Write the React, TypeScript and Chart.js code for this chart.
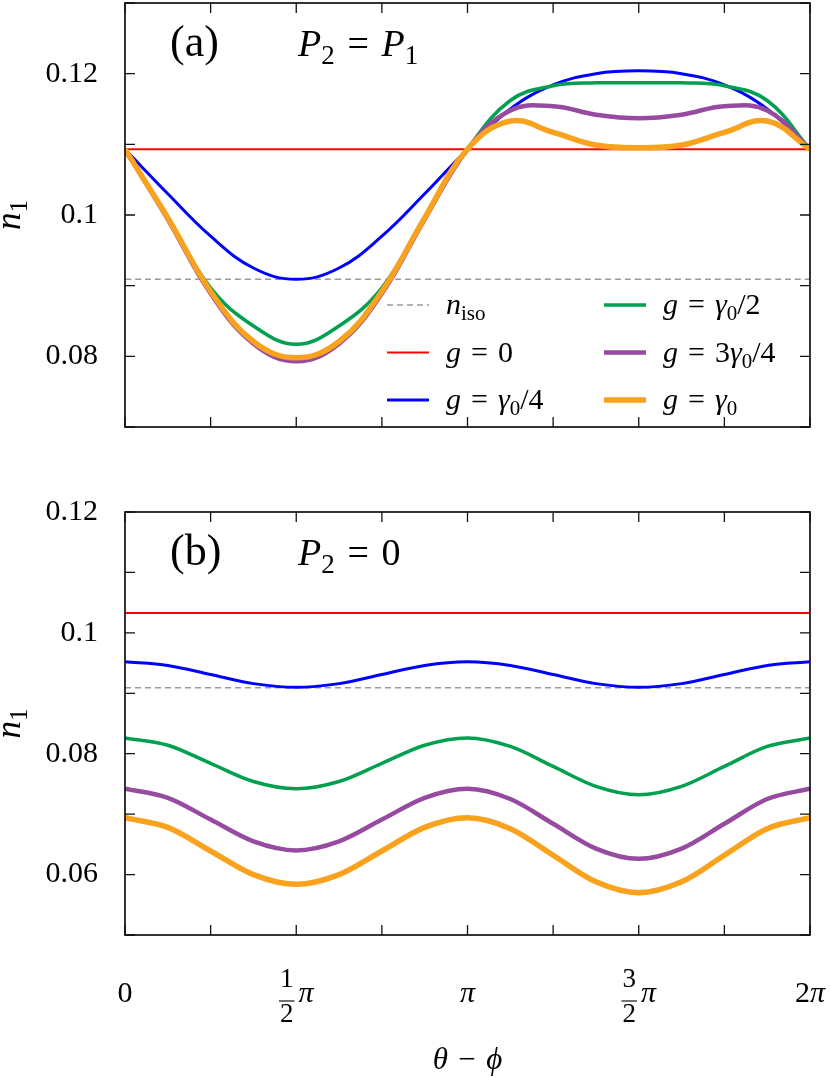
import { useEffect, useRef } from "react";
import { Chart, registerables } from "chart.js";

Chart.register(...registerables);

const SERIF = "'Liberation Serif', 'Times New Roman', serif";
const EQ = "\u2004=\u2004";

// θ − φ, in units of π
const THETA = [0, 0.125, 0.25, 0.375, 0.5, 0.625, 0.75, 0.875, 1, 1.125, 1.25, 1.375, 1.5, 1.625, 1.75, 1.875, 2];
const X_TICKS = [0, 0.25, 0.5, 0.75, 1, 1.25, 1.5, 1.75, 2];
const X_LABEL_AT = [0, 0.5, 1, 1.5, 2];
const X_LABELS = ["0", "1/2π", "π", "3/2π", "2π"];

// (a) P2 = P1
const A_ISO = [0.0909, 0.0909, 0.0909, 0.0909, 0.0909, 0.0909, 0.0909, 0.0909, 0.0909, 0.0909, 0.0909, 0.0909, 0.0909, 0.0909, 0.0909, 0.0909, 0.0909];
const A_G0 = [0.1093, 0.1093, 0.1093, 0.1093, 0.1093, 0.1093, 0.1093, 0.1093, 0.1093, 0.1093, 0.1093, 0.1093, 0.1093, 0.1093, 0.1093, 0.1093, 0.1093];
const A_G1 = [0.1093, 0.103, 0.097, 0.0925, 0.0909, 0.0925, 0.097, 0.103, 0.1093, 0.115, 0.1184, 0.12, 0.1204, 0.12, 0.1184, 0.115, 0.1093];
const A_G2 = [0.1093, 0.0997, 0.0897, 0.0843, 0.0817, 0.0843, 0.0897, 0.0997, 0.1093, 0.1162, 0.1183, 0.1187, 0.1187, 0.1187, 0.1183, 0.1162, 0.1093];
const A_G3 = [0.1093, 0.0994, 0.0889, 0.0818, 0.0793, 0.0818, 0.0889, 0.0994, 0.1093, 0.1148, 0.1154, 0.1142, 0.1137, 0.1142, 0.1154, 0.1148, 0.1093];
const A_G4 = [0.1093, 0.0996, 0.0892, 0.0821, 0.0798, 0.0821, 0.0892, 0.0996, 0.1093, 0.1133, 0.1117, 0.1099, 0.1095, 0.1099, 0.1117, 0.1133, 0.1093];
const A_Y_TICKS = [0.07, 0.08, 0.09, 0.1, 0.11, 0.12, 0.13];
const A_Y_LABELS = [0.08, 0.1, 0.12];

// (b) P2 = 0
const B_ISO = [0.0909, 0.0909, 0.0909, 0.0909, 0.0909, 0.0909, 0.0909, 0.0909, 0.0909, 0.0909, 0.0909, 0.0909, 0.0909, 0.0909, 0.0909, 0.0909, 0.0909];
const B_G0 = [0.1033, 0.1033, 0.1033, 0.1033, 0.1033, 0.1033, 0.1033, 0.1033, 0.1033, 0.1033, 0.1033, 0.1033, 0.1033, 0.1033, 0.1033, 0.1033, 0.1033];
const B_G1 = [0.0952, 0.0946, 0.0931, 0.0916, 0.091, 0.0916, 0.0931, 0.0946, 0.0952, 0.0946, 0.0931, 0.0916, 0.091, 0.0916, 0.0931, 0.0946, 0.0952];
const B_G2 = [0.0826, 0.0814, 0.0784, 0.0754, 0.0742, 0.0754, 0.0784, 0.0814, 0.0826, 0.0812, 0.0779, 0.0746, 0.0732, 0.0746, 0.0779, 0.0812, 0.0826];
const B_G3 = [0.0742, 0.0727, 0.0691, 0.0655, 0.064, 0.0655, 0.0691, 0.0727, 0.0742, 0.0725, 0.0684, 0.0643, 0.0626, 0.0643, 0.0684, 0.0725, 0.0742];
const B_G4 = [0.0694, 0.0678, 0.0639, 0.06, 0.0584, 0.06, 0.0639, 0.0678, 0.0694, 0.0676, 0.0632, 0.0588, 0.057, 0.0588, 0.0632, 0.0676, 0.0694];
const B_Y_TICKS = [0.05, 0.06, 0.07, 0.08, 0.09, 0.1, 0.11, 0.12];
const B_Y_LABELS = [0.06, 0.08, 0.1, 0.12];

type Seg = { t: string; it?: boolean; sub?: boolean };

const SERIES: { name: Seg[]; color: string; width: number; dash?: number[] }[] = [
  { name: [{ t: "n", it: true }, { t: "iso", sub: true }], color: "#9a9a9a", width: 1.5, dash: [6, 4] },
  { name: [{ t: "g", it: true }, { t: EQ }, { t: "0" }], color: "#ff0000", width: 2 },
  { name: [{ t: "g", it: true }, { t: EQ }, { t: "γ", it: true }, { t: "0", sub: true }, { t: "/4" }], color: "#0000ff", width: 3 },
  { name: [{ t: "g", it: true }, { t: EQ }, { t: "γ", it: true }, { t: "0", sub: true }, { t: "/2" }], color: "#00a050", width: 3.5 },
  { name: [{ t: "g", it: true }, { t: EQ + "3" }, { t: "γ", it: true }, { t: "0", sub: true }, { t: "/4" }], color: "#964ba0", width: 4.5 },
  { name: [{ t: "g", it: true }, { t: EQ }, { t: "γ", it: true }, { t: "0", sub: true }], color: "#f9a21e", width: 5.5 },
];

const Y_TITLE: Seg[] = [{ t: "n", it: true }, { t: "1", sub: true }];
const X_TITLE: Seg[] = [{ t: "θ", it: true }, { t: "\u2004−\u2004" }, { t: "ϕ", it: true }];

type PanelSpec = {
  series: number[][];
  yMin: number;
  yMax: number;
  yTicks: number[];
  yLabels: number[];
  tag: Seg[];
  cond: Seg[];
  legend: boolean;
  xLabels: boolean;
  smooth: "default" | "monotone";
  padding: { top: number; right: number; bottom: number; left: number };
  top: number;
  height: number;
};

const PANEL_A: PanelSpec = {
  series: [A_ISO, A_G0, A_G1, A_G2, A_G3, A_G4],
  yMin: 0.07,
  yMax: 0.13,
  yTicks: A_Y_TICKS,
  yLabels: A_Y_LABELS,
  tag: [{ t: "(a)" }],
  cond: [{ t: "P", it: true }, { t: "2", sub: true }, { t: EQ }, { t: "P", it: true }, { t: "1", sub: true }],
  legend: true,
  xLabels: false,
  smooth: "default",
  padding: { top: 3, right: 20, bottom: 13, left: 0 },
  top: 0,
  height: 440,
};

const PANEL_B: PanelSpec = {
  series: [B_ISO, B_G0, B_G1, B_G2, B_G3, B_G4],
  yMin: 0.05,
  yMax: 0.12,
  yTicks: B_Y_TICKS,
  yLabels: B_Y_LABELS,
  tag: [{ t: "(b)" }],
  cond: [{ t: "P", it: true }, { t: "2", sub: true }, { t: EQ + "0" }],
  legend: false,
  xLabels: true,
  smooth: "monotone",
  padding: { top: 20, right: 20, bottom: 142, left: 0 },
  top: 492,
  height: 585,
};

function drawMath(ctx: CanvasRenderingContext2D, segs: Seg[], x: number, y: number, size: number, align: "left" | "center" = "left") {
  const fontOf = (s: Seg) => `${s.it ? "italic " : ""}${s.sub ? Math.round(size * 0.7) : size}px ${SERIF}`;
  let w = 0;
  for (const s of segs) {
    ctx.font = fontOf(s);
    w += ctx.measureText(s.t).width;
  }
  let cx = align === "center" ? x - w / 2 : x;
  ctx.textAlign = "left";
  ctx.textBaseline = "alphabetic";
  for (const s of segs) {
    ctx.font = fontOf(s);
    ctx.fillText(s.t, cx, s.sub ? y + size * 0.2 : y);
    cx += ctx.measureText(s.t).width;
  }
}

function drawXLabel(ctx: CanvasRenderingContext2D, label: string, px: number, yb: number) {
  const frac = label.match(/^(\d)\/(\d)π$/);
  if (frac) {
    ctx.font = `27px ${SERIF}`;
    const barW = Math.max(ctx.measureText(frac[1]).width, ctx.measureText(frac[2]).width) + 2;
    ctx.font = `italic 30px ${SERIF}`;
    const piW = ctx.measureText("π").width;
    const sx = px - (barW + 4 + piW) / 2;
    drawMath(ctx, [{ t: frac[1] }], sx + barW / 2, yb - 15, 27, "center");
    drawMath(ctx, [{ t: frac[2] }], sx + barW / 2, yb + 20, 27, "center");
    ctx.lineWidth = 1.2;
    ctx.beginPath();
    ctx.moveTo(sx, yb - 1);
    ctx.lineTo(sx + barW, yb - 1);
    ctx.stroke();
    drawMath(ctx, [{ t: "π", it: true }], sx + barW + 4, yb, 30);
    return;
  }
  const segs: Seg[] = label.split("").map((c) => (c === "π" ? { t: c, it: true } : { t: c }));
  drawMath(ctx, segs, px, yb, 30, "center");
}

function panelPlugin(p: PanelSpec) {
  return {
    id: "panelDecor",
    afterDraw(chart: any) {
      const { ctx, chartArea: a, scales } = chart;
      const xs = scales.x;
      const ys = scales.y;
      ctx.save();
      ctx.strokeStyle = "#111";
      ctx.fillStyle = "#000";

      // inward tick marks on all four sides
      ctx.lineWidth = 1.3;
      ctx.beginPath();
      for (const v of X_TICKS) {
        const px = xs.getPixelForValue(v);
        ctx.moveTo(px, a.bottom);
        ctx.lineTo(px, a.bottom - 10);
        ctx.moveTo(px, a.top);
        ctx.lineTo(px, a.top + 10);
      }
      for (const t of ys.ticks) {
        const py = ys.getPixelForValue(t.value);
        ctx.moveTo(a.left, py);
        ctx.lineTo(a.left + 10, py);
        ctx.moveTo(a.right, py);
        ctx.lineTo(a.right - 10, py);
      }
      ctx.stroke();
      ctx.lineWidth = 1.7;
      ctx.strokeRect(a.left, a.top, a.right - a.left, a.bottom - a.top);

      drawMath(ctx, p.tag, a.left + 45, a.top + 53, 44);
      drawMath(ctx, p.cond, a.left + 173, a.top + 53, 38);

      ctx.save();
      ctx.translate(a.left - 105, (a.top + a.bottom) / 2);
      ctx.rotate(-Math.PI / 2);
      drawMath(ctx, Y_TITLE, 0, 0, 35, "center");
      ctx.restore();

      if (p.legend) {
        chart.data.datasets.forEach((ds: any, i: number) => {
          const col = Math.floor(i / 3);
          const row = i % 3;
          const lx = a.right - (col === 0 ? 423 : 206);
          const ly = a.bottom - 122 + row * 47.5;
          ctx.save();
          ctx.strokeStyle = ds.borderColor;
          ctx.lineWidth = ds.borderWidth;
          ctx.setLineDash(ds.borderDash || []);
          ctx.beginPath();
          ctx.moveTo(lx, ly);
          ctx.lineTo(lx + 42, ly);
          ctx.stroke();
          ctx.restore();
          drawMath(ctx, SERIES[i].name, lx + 59, ly + 9, 30);
        });
      }

      if (p.xLabels) {
        X_LABEL_AT.forEach((v, i) => drawXLabel(ctx, X_LABELS[i], xs.getPixelForValue(v), a.bottom + 67));
        drawMath(ctx, X_TITLE, (a.left + a.right) / 2, a.bottom + 134, 31, "center");
      }
      ctx.restore();
    },
  };
}

function makeConfig(p: PanelSpec): any {
  return {
    type: "line",
    data: {
      datasets: p.series.map((vals, i) => ({
        label: SERIES[i].name.map((s) => s.t).join(""),
        data: THETA.map((x, j) => ({ x, y: vals[j] })),
        borderColor: SERIES[i].color,
        borderWidth: SERIES[i].width,
        borderDash: SERIES[i].dash ?? [],
        pointRadius: 0,
        tension: 0.4,
        cubicInterpolationMode: p.smooth,
        fill: false,
        order: p.series.length - i,
      })),
    },
    options: {
      animation: false,
      responsive: false,
      events: [],
      layout: { padding: p.padding },
      plugins: { legend: { display: false }, tooltip: { enabled: false } },
      scales: {
        x: { type: "linear", min: 0, max: 2, display: false },
        y: {
          type: "linear",
          min: p.yMin,
          max: p.yMax,
          grid: { display: false, drawTicks: false },
          border: { display: false },
          afterBuildTicks: (s: any) => {
            s.ticks = p.yTicks.map((value) => ({ value }));
          },
          afterFit: (s: any) => {
            s.width = 125;
            s.paddingTop = 0;
            s.paddingBottom = 0;
          },
          ticks: {
            padding: 27,
            color: "#000",
            font: { family: SERIF, size: 30 },
            callback: (v: number) => (p.yLabels.includes(v) ? String(v) : ""),
          },
        },
      },
    },
    plugins: [panelPlugin(p)],
  };
}

function Panel({ p }: { p: PanelSpec }) {
  const ref = useRef<HTMLCanvasElement>(null);

  useEffect(() => {
    const el = ref.current;
    if (!el) return;
    const chart = new Chart(el, makeConfig(p));
    return () => chart.destroy();
  }, [p]);

  return (
    <canvas
      ref={ref}
      width={830}
      height={p.height}
      style={{ position: "absolute", left: 0, top: p.top, display: "block" }}
    />
  );
}

export default function App() {
  return (
    <div style={{ position: "absolute", left: 0, top: 0, width: 830, height: 1077, background: "#fff" }}>
      <Panel p={PANEL_A} />
      <Panel p={PANEL_B} />
    </div>
  );
}
